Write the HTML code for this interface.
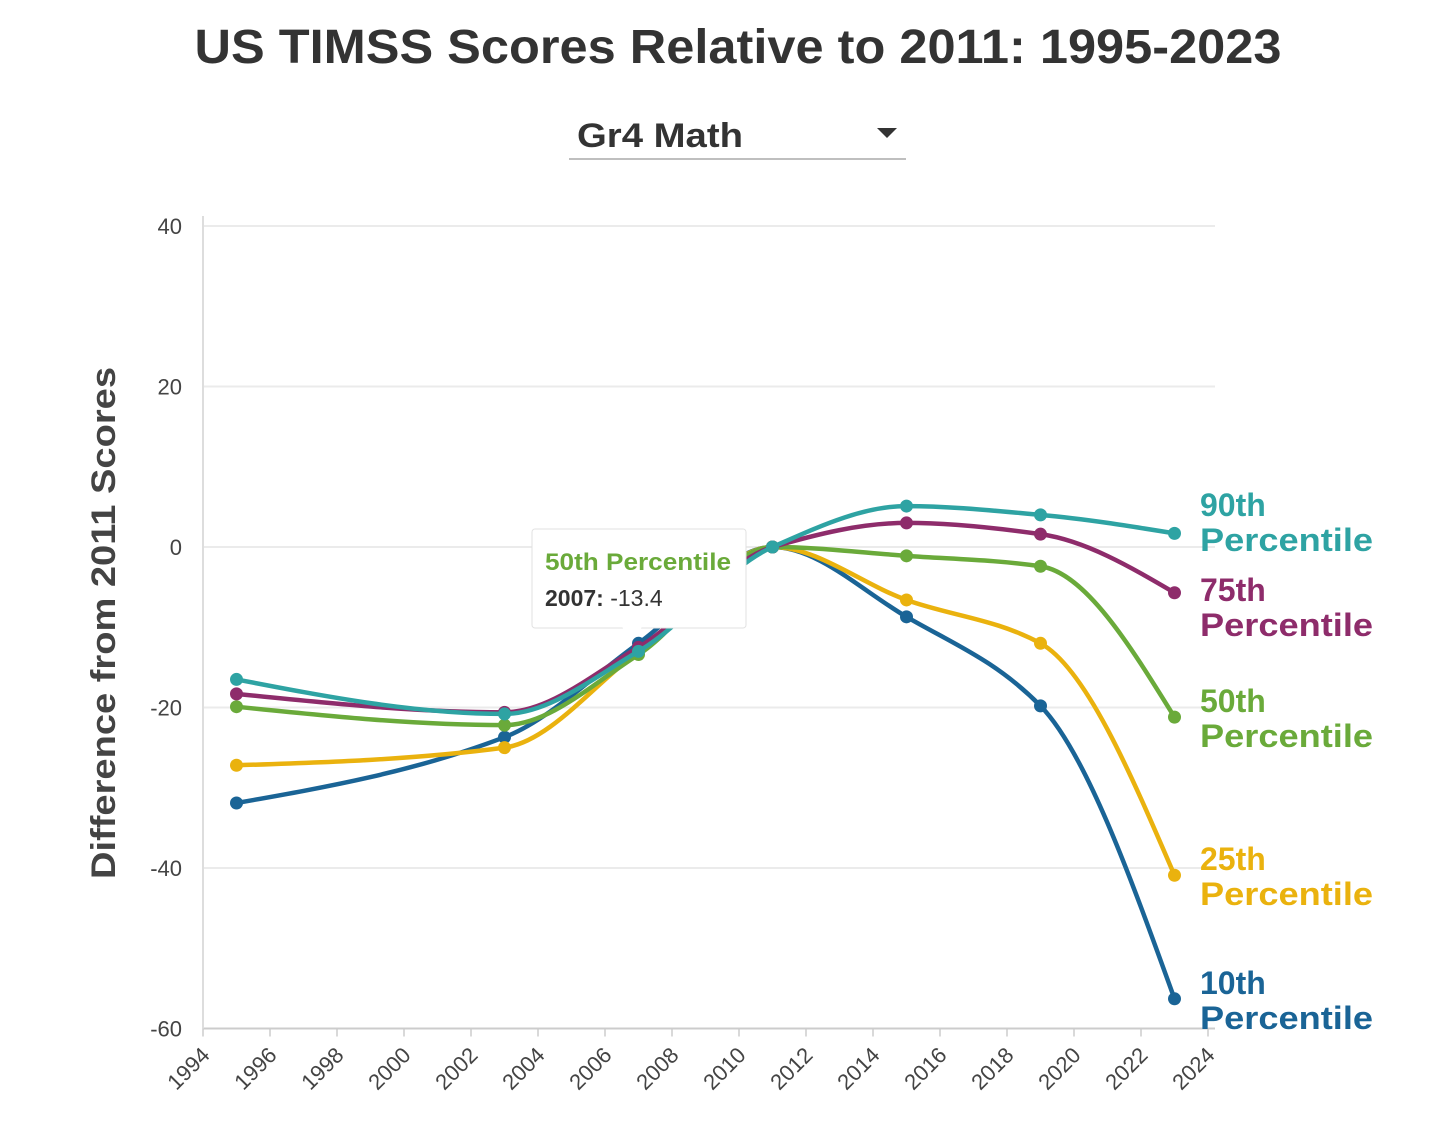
<!DOCTYPE html>
<html><head><meta charset="utf-8">
<style>
html,body{margin:0;padding:0;background:#fff;}
svg{display:block;font-family:"Liberation Sans",sans-serif;}
</style></head>
<body>
<svg id="chart" width="1456" height="1147" viewBox="0 0 1456 1147">
<text x="738" y="63" text-anchor="middle" font-size="48" font-weight="bold" fill="#333" textLength="1087" lengthAdjust="spacingAndGlyphs">US TIMSS Scores Relative to 2011: 1995-2023</text>
<g>
<text x="577" y="147" font-size="34" font-weight="bold" fill="#333" textLength="166" lengthAdjust="spacingAndGlyphs">Gr4 Math</text>
<path d="M877 128 L897 128 L887 138 Z" fill="#333"/>
<line x1="569" y1="159" x2="906" y2="159" stroke="#aaa" stroke-width="1.5"/>
</g>
<text transform="translate(115,623) rotate(-90)" text-anchor="middle" font-size="34" font-weight="bold" fill="#444" textLength="512" lengthAdjust="spacingAndGlyphs">Difference from 2011 Scores</text>
<g id="grid"></g>
<g id="series"></g>
<g id="labels"></g>
<g>
<rect x="532" y="529" width="214" height="99" rx="3" fill="#fff" stroke="#e2e2e2" stroke-width="1"/>
<path d="M622 627 L632 640 L642 627 Z" fill="#fff"/>
<text x="545" y="570" font-size="24" font-weight="bold" fill="#6aaa3a" textLength="186" lengthAdjust="spacingAndGlyphs">50th Percentile</text>
<text x="545" y="606" font-size="23" fill="#333"><tspan font-weight="bold">2007:</tspan> -13.4</text>
</g>
</svg>
<script>
const years=[1995,2003,2007,2011,2015,2019,2023];
const seriesNames=["90th","75th","50th","25th","10th"];
const p90=[-16.5,-20.8,-13.0,0,5.1,4.0,1.7];
const p75=[-18.3,-20.6,-12.5,0,3.0,1.6,-5.7];
const p50=[-19.9,-22.2,-13.4,0,-1.1,-2.4,-21.2];
const p25=[-27.2,-25.0,-13.0,0,-6.6,-12.0,-40.9];
const p10=[-31.9,-23.7,-12.0,0,-8.7,-19.8,-56.3];
const yTicks=[40,20,0,-20,-40,-60];
const xTicks=[1994,1996,1998,2000,2002,2004,2006,2008,2010,2012,2014,2016,2018,2020,2022,2024];
const colors=["#2ea3a3","#8e2c6b","#6aaa3a","#eab20e","#1a6496"];
const allSeries=[p90,p75,p50,p25,p10];
const labelY=[516,601,712,870,994];

const X0=203,X1=1208,Y0=547,PER=160.5/20;
const x=v=>X0+(v-1994)*(X1-X0)/30;
const y=v=>Y0-v*PER;
const NS="http://www.w3.org/2000/svg";
function mk(tag,attrs,parent){const e=document.createElementNS(NS,tag);for(const k in attrs)e.setAttribute(k,attrs[k]);parent.appendChild(e);return e;}
const grid=document.getElementById('grid'),ser=document.getElementById('series'),lab=document.getElementById('labels');
yTicks.forEach(t=>{
  const l=mk('line',{x1:X0,x2:1215,y1:y(t),y2:y(t),stroke:t===-60?'#ccc':'#ebebeb','stroke-width':2},grid);
  
  
  const tx=mk('text',{x:182,y:y(t)+8,'text-anchor':'end','font-size':22,fill:'#444'},grid);
  tx.textContent=t;
  
  
});
const ax=mk('line',{x1:X0,x2:X0,y1:216,y2:y(-60),stroke:'#ddd','stroke-width':2},grid);


xTicks.forEach(t=>{
  const tk=mk('line',{x1:x(t),x2:x(t),y1:y(-60),y2:y(-60)+8,stroke:'#ccc','stroke-width':1.5},grid);
  
  
  const tx=mk('text',{transform:`translate(${x(t)+8},${y(-60)+28}) rotate(-45)`,'text-anchor':'end','font-size':22,fill:'#444'},grid);
  tx.textContent=t;
  
  
});
function monotonePath(px,py){
  const n=px.length,d=[],m=[];
  for(let i=0;i<n-1;i++)d.push((py[i+1]-py[i])/(px[i+1]-px[i]));
  for(let i=1;i<n-1;i++){
    if(d[i-1]*d[i]<=0)m[i]=0;
    else{const h0=px[i]-px[i-1],h1=px[i+1]-px[i];m[i]=3*(h0+h1)/((2*h1+h0)/d[i-1]+(h1+2*h0)/d[i]);}
  }
  m[0]=(3*d[0]-m[1])/2; m[n-1]=(3*d[n-2]-m[n-2])/2;
  let s=`M${px[0]},${py[0]}`;
  for(let i=0;i<n-1;i++){const h=(px[i+1]-px[i])/3;
    s+=` C${px[i]+h},${py[i]+m[i]*h} ${px[i+1]-h},${py[i+1]-m[i+1]*h} ${px[i+1]},${py[i+1]}`;}
  return s;
}
for(let k=allSeries.length-1;k>=0;k--){
  const vals=allSeries[k],c=colors[k];
  const px=years.map(x),py=vals.map(y);
  const p=mk('path',{d:monotonePath(px,py),fill:'none',stroke:c,'stroke-width':4.5},ser);
  
  
  vals.forEach((v,i)=>{
    const pt=mk('circle',{cx:x(years[i]),cy:y(v),r:6.5,fill:c},ser);
    
    
  });
  const g=mk('text',{x:1200,y:labelY[k],'font-size':32,'font-weight':'bold',fill:c},lab);
  
  
  const t1=mk('tspan',{x:1200},g);t1.textContent=seriesNames[k];
  const t2=mk('tspan',{x:1200,dy:35,textLength:173,lengthAdjust:'spacingAndGlyphs'},g);t2.textContent='Percentile';
}
</script>
</body></html>
